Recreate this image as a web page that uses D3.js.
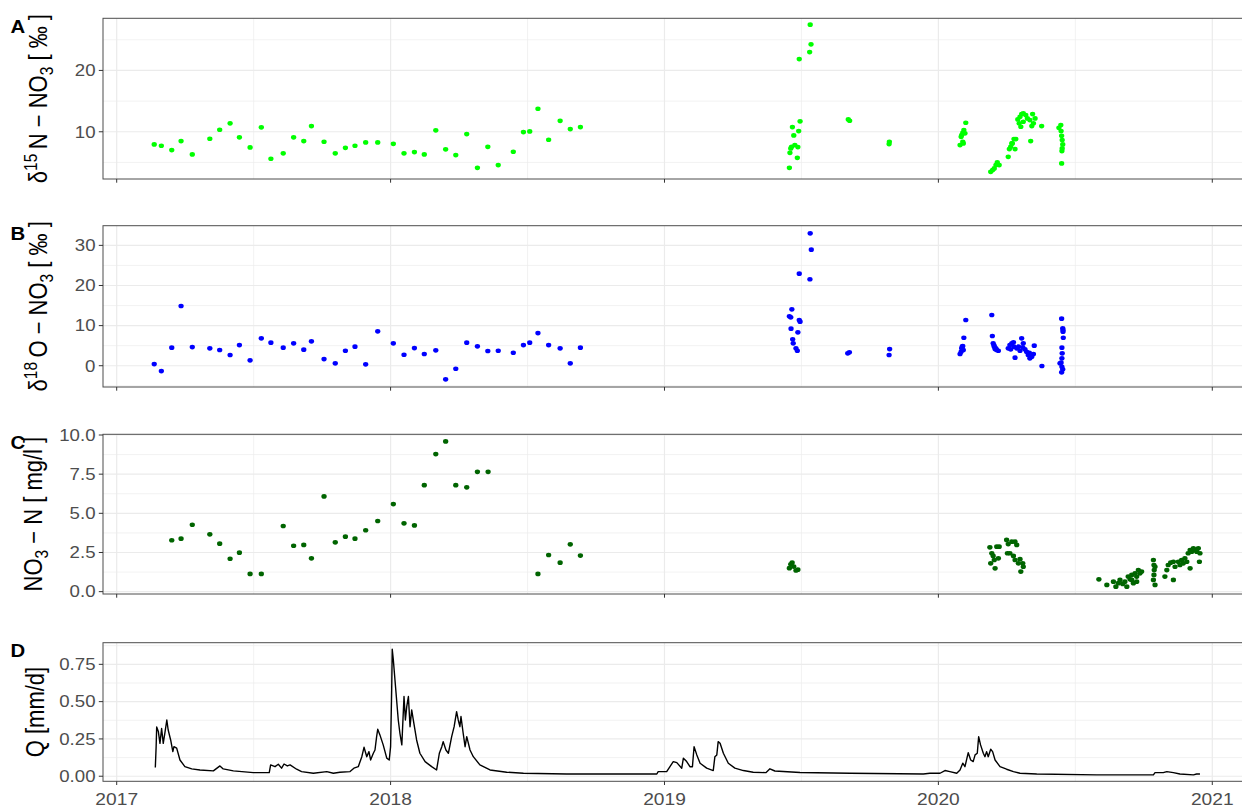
<!DOCTYPE html>
<html>
<head>
<meta charset="utf-8">
<script src="https://cdn.jsdelivr.net/npm/d3@7"></script>
<style>
  body { margin: 0; background: #fff; }
  text { font-family: "Liberation Sans", Arial, Helvetica, sans-serif; }
</style>
</head>
<body>
<svg id="chart" width="1242" height="807"></svg>
<script>
// Sampling times are given in decimal years.

// δ15N-NO3 [‰]
const d15nTime = [
  2017.137, 2017.163, 2017.201, 2017.235, 2017.276, 2017.340, 2017.376, 2017.414, 2017.448, 2017.487,
  2017.528, 2017.563, 2017.608, 2017.646, 2017.683, 2017.711, 2017.757, 2017.798, 2017.835, 2017.870,
  2017.909, 2017.953, 2018.010, 2018.049, 2018.087, 2018.123, 2018.165, 2018.201, 2018.238, 2018.278,
  2018.317, 2018.355, 2018.393, 2018.448, 2018.485, 2018.508, 2018.538, 2018.577, 2018.619, 2018.656,
  2018.693,
  2019.456, 2019.458, 2019.461, 2019.464, 2019.467, 2019.472, 2019.476, 2019.485, 2019.487, 2019.490,
  2019.492, 2019.495, 2019.530, 2019.535, 2019.532, 2019.671, 2019.676, 2019.820, 2019.821,
  2020.079, 2020.083, 2020.085, 2020.089, 2020.089, 2020.093, 2020.100, 2020.097, 2020.091,
  2020.191, 2020.198, 2020.204, 2020.210, 2020.215, 2020.222, 2020.255, 2020.259, 2020.264, 2020.268,
  2020.270, 2020.276, 2020.280, 2020.283, 2020.290, 2020.295, 2020.298, 2020.301, 2020.304, 2020.310,
  2020.310, 2020.319, 2020.325, 2020.334, 2020.337, 2020.341, 2020.344, 2020.347, 2020.353, 2020.377,
  2020.440, 2020.447, 2020.448, 2020.450, 2020.452, 2020.454, 2020.452, 2020.451, 2020.450
];
const d15nValue = [
  7.94, 7.72, 7.01, 8.48, 6.31, 8.86, 10.33, 11.37, 9.09, 7.45,
  10.72, 5.60, 6.48, 9.09, 8.48, 10.93, 8.37, 6.48, 7.39, 7.72,
  8.27, 8.27, 8.04, 6.48, 6.69, 6.31, 10.23, 7.13, 6.20, 9.62,
  4.13, 7.55, 4.57, 6.74, 9.95, 10.06, 13.75, 8.70, 11.79, 10.44,
  10.77,
  4.13, 6.57, 7.29, 7.55, 10.77, 9.41, 7.83, 5.76, 7.50, 10.11,
  21.86, 11.70, 23.00, 24.26, 27.46, 12.02, 11.80, 7.99, 8.37,
  7.83, 9.18, 9.46, 9.84, 8.37, 10.28, 11.47, 9.74, 8.10,
  3.47, 3.75, 4.03, 4.57, 5.01, 4.57, 5.92, 7.18, 7.55, 8.10,
  8.10, 8.81, 7.18, 8.81, 12.02, 11.37, 12.45, 10.82, 12.89, 13.00,
  11.63, 12.72, 12.18, 11.91, 8.48, 10.93, 12.89, 11.37, 12.18, 10.93,
  10.65, 11.09, 10.11, 9.35, 8.65, 7.94, 7.29, 6.85, 4.84
];

// δ18O-NO3 [‰]
const d18oTime = [
  2017.137, 2017.163, 2017.201, 2017.235, 2017.276, 2017.340, 2017.376, 2017.414, 2017.448, 2017.487,
  2017.528, 2017.563, 2017.608, 2017.646, 2017.683, 2017.711, 2017.757, 2017.798, 2017.835, 2017.870,
  2017.909, 2017.953, 2018.010, 2018.049, 2018.087, 2018.123, 2018.165, 2018.201, 2018.238, 2018.278,
  2018.317, 2018.355, 2018.393, 2018.448, 2018.485, 2018.508, 2018.538, 2018.577, 2018.619, 2018.656,
  2018.693,
  2019.456, 2019.461, 2019.462, 2019.465, 2019.468, 2019.470, 2019.480, 2019.485, 2019.487, 2019.492,
  2019.492, 2019.495, 2019.531, 2019.532, 2019.536, 2019.669, 2019.675, 2019.820, 2019.822,
  2020.079, 2020.083, 2020.085, 2020.087, 2020.089, 2020.091, 2020.093, 2020.100,
  2020.195, 2020.197, 2020.200, 2020.203, 2020.204, 2020.207, 2020.210, 2020.213, 2020.219,
  2020.255, 2020.261, 2020.264, 2020.268, 2020.274, 2020.276, 2020.280, 2020.286, 2020.292, 2020.298,
  2020.304, 2020.308, 2020.310, 2020.316, 2020.322, 2020.328, 2020.332, 2020.334, 2020.341, 2020.347,
  2020.350, 2020.378,
  2020.444, 2020.448, 2020.450, 2020.450, 2020.451, 2020.451, 2020.451, 2020.452, 2020.454, 2020.454,
  2020.455, 2020.455, 2020.456
];
const d18oValue = [
  0.42, -1.32, 4.49, 14.89, 4.66, 4.34, 3.92, 2.67, 5.16, 1.35,
  6.83, 5.74, 4.49, 5.59, 3.99, 6.08, 1.67, 0.60, 3.74, 4.74,
  0.35, 8.58, 5.59, 2.74, 4.41, 2.92, 3.84, -3.39, -0.75, 5.74,
  4.84, 3.67, 3.74, 3.24, 5.16, 5.74, 8.15, 5.16, 4.34, 0.60,
  4.49,
  12.32, 12.07, 9.23, 14.06, 6.58, 5.59, 4.34, 3.74, 8.33, 11.40,
  22.94, 10.97, 21.55, 33.00, 28.93, 3.09, 3.34, 2.67, 4.16,
  2.92, 3.49, 4.34, 4.74, 4.91, 3.92, 6.98, 11.40,
  12.64, 7.41, 5.59, 5.09, 4.74, 4.16, 4.34, 3.92, 3.74,
  4.34, 5.16, 4.09, 5.59, 5.84, 4.74, 2.00, 4.34, 4.74, 3.74,
  6.83, 4.59, 5.59, 4.09, 3.49, 2.67, 3.24, 1.85, 2.24, 2.92,
  4.99, -0.07,
  0.60, 0.75, 11.72, -1.65, 4.49, 1.85, -0.25, 3.09, 9.33, -0.90,
  8.48, 8.90, 6.98
];

// NO3-N [mg/l]
const no3Time = [
  2017.201, 2017.235, 2017.276, 2017.340, 2017.376, 2017.414, 2017.448, 2017.487, 2017.528, 2017.608,
  2017.646, 2017.683, 2017.711, 2017.757, 2017.798, 2017.835, 2017.870, 2017.909, 2017.953, 2018.010,
  2018.049, 2018.087, 2018.123, 2018.165, 2018.201, 2018.238, 2018.278, 2018.317, 2018.356, 2018.538,
  2018.577, 2018.619, 2018.656, 2018.693,
  2019.456, 2019.461, 2019.466, 2019.472, 2019.480, 2019.487,
  2020.188, 2020.191, 2020.195, 2020.200, 2020.204, 2020.207, 2020.213, 2020.219, 2020.222, 2020.249,
  2020.252, 2020.255, 2020.261, 2020.268, 2020.274, 2020.280, 2020.280, 2020.286, 2020.292, 2020.298,
  2020.301, 2020.308, 2020.310,
  2020.586, 2020.615, 2020.639, 2020.648, 2020.657, 2020.663, 2020.673, 2020.681, 2020.688, 2020.693,
  2020.700, 2020.706, 2020.706, 2020.712, 2020.718, 2020.724, 2020.724, 2020.730, 2020.736, 2020.742,
  2020.785, 2020.785, 2020.787, 2020.788, 2020.787, 2020.791, 2020.791, 2020.827, 2020.834, 2020.839,
  2020.848, 2020.858, 2020.858, 2020.864, 2020.876, 2020.882, 2020.888, 2020.894, 2020.900, 2020.907,
  2020.912, 2020.919, 2020.919, 2020.925, 2020.931, 2020.937, 2020.943, 2020.949, 2020.953, 2020.955
];
const no3Value = [
  3.28, 3.38, 4.27, 3.66, 3.06, 2.10, 2.49, 1.13, 1.13, 4.19,
  2.93, 2.98, 2.13, 6.08, 3.15, 3.51, 3.38, 3.92, 4.51, 5.59,
  4.36, 4.23, 6.80, 8.78, 9.59, 6.80, 6.66, 7.65, 7.65, 1.13,
  2.34, 1.85, 3.02, 2.30,
  1.50, 1.75, 1.85, 1.60, 1.35, 1.40,
  2.83, 1.81, 2.45, 2.28, 2.02, 1.49, 2.87, 2.13, 2.87, 3.30,
  2.45, 3.04, 2.45, 3.19, 2.28, 3.19, 2.02, 2.98, 1.81, 2.07,
  1.28, 1.81, 1.59,
  0.79, 0.43, 0.64, 0.32, 0.54, 0.75, 0.49, 0.64, 0.32, 0.96,
  0.79, 1.07, 0.75, 0.54, 1.17, 0.96, 0.64, 1.38, 1.17, 1.28,
  2.02, 0.75, 1.70, 1.38, 1.07, 0.43, 1.59, 0.96, 1.38, 1.70,
  1.85, 1.91, 0.75, 1.59, 1.91, 1.70, 2.02, 1.81, 2.13, 1.91,
  2.45, 2.66, 1.49, 2.55, 2.77, 2.66, 2.55, 2.77, 1.91, 2.45
];

// Discharge Q [mm/d]
const qTime = [
  2017.141, 2017.144, 2017.146, 2017.152, 2017.158, 2017.164, 2017.170, 2017.176, 2017.183, 2017.188,
  2017.197, 2017.205, 2017.209, 2017.219, 2017.231, 2017.249, 2017.274, 2017.304, 2017.353, 2017.377,
  2017.389, 2017.426, 2017.499, 2017.557, 2017.562, 2017.578, 2017.590, 2017.602, 2017.611, 2017.623,
  2017.633, 2017.657, 2017.675, 2017.718, 2017.767, 2017.791, 2017.815, 2017.852, 2017.866, 2017.882,
  2017.895, 2017.903, 2017.913, 2017.921, 2017.927, 2017.937, 2017.943, 2017.949, 2017.953, 2017.961,
  2017.973, 2017.986, 2017.995, 2018.000, 2018.004, 2018.006, 2018.010, 2018.016, 2018.022, 2018.028,
  2018.034, 2018.041, 2018.044, 2018.049, 2018.054, 2018.059, 2018.065, 2018.071, 2018.077, 2018.085,
  2018.095, 2018.107, 2018.126, 2018.150, 2018.168, 2018.178, 2018.187, 2018.192, 2018.202, 2018.211,
  2018.223, 2018.232, 2018.241, 2018.247, 2018.253, 2018.257, 2018.265, 2018.272, 2018.278, 2018.290,
  2018.302, 2018.326, 2018.363, 2018.424, 2018.485, 2018.643, 2018.911, 2018.972, 2018.977, 2019.008,
  2019.020, 2019.032, 2019.045, 2019.063, 2019.069, 2019.081, 2019.093, 2019.102, 2019.108, 2019.118,
  2019.130, 2019.154, 2019.178, 2019.184, 2019.191, 2019.196, 2019.203, 2019.215, 2019.233, 2019.257,
  2019.288, 2019.324, 2019.370, 2019.385, 2019.403, 2019.495, 2019.677, 2019.945, 2019.969, 2020.006,
  2020.024, 2020.042, 2020.067, 2020.079, 2020.089, 2020.097, 2020.109, 2020.118, 2020.127, 2020.134,
  2020.142, 2020.147, 2020.154, 2020.164, 2020.170, 2020.176, 2020.182, 2020.191, 2020.198, 2020.207,
  2020.225, 2020.249, 2020.274, 2020.298, 2020.359, 2020.578, 2020.785, 2020.791, 2020.821, 2020.834,
  2020.858, 2020.882, 2020.931, 2020.943, 2020.955
];
const qValue = [
  0.058, 0.198, 0.330, 0.300, 0.220, 0.320, 0.220, 0.290, 0.377, 0.310,
  0.243, 0.165, 0.198, 0.188, 0.109, 0.064, 0.049, 0.042, 0.036, 0.069,
  0.049, 0.036, 0.024, 0.024, 0.076, 0.064, 0.080, 0.054, 0.082, 0.069,
  0.076, 0.047, 0.031, 0.020, 0.031, 0.020, 0.027, 0.031, 0.054, 0.064,
  0.131, 0.194, 0.131, 0.165, 0.109, 0.154, 0.176, 0.265, 0.315, 0.277,
  0.210, 0.121, 0.109, 0.198, 0.578, 0.851, 0.780, 0.645, 0.511, 0.377,
  0.288, 0.210, 0.332, 0.534, 0.377, 0.467, 0.534, 0.332, 0.444, 0.355,
  0.243, 0.154, 0.098, 0.064, 0.042, 0.154, 0.198, 0.232, 0.176, 0.154,
  0.265, 0.332, 0.433, 0.377, 0.332, 0.400, 0.288, 0.198, 0.265, 0.176,
  0.131, 0.076, 0.042, 0.027, 0.020, 0.015, 0.015, 0.015, 0.031, 0.031,
  0.064, 0.098, 0.091, 0.054, 0.121, 0.098, 0.064, 0.064, 0.198, 0.143,
  0.087, 0.054, 0.038, 0.131, 0.143, 0.232, 0.221, 0.154, 0.087, 0.054,
  0.038, 0.027, 0.024, 0.050, 0.035, 0.025, 0.020, 0.015, 0.020, 0.020,
  0.038, 0.031, 0.020, 0.042, 0.087, 0.064, 0.158, 0.109, 0.098, 0.143,
  0.154, 0.265, 0.210, 0.154, 0.131, 0.165, 0.131, 0.181, 0.165, 0.109,
  0.064, 0.047, 0.031, 0.020, 0.015, 0.009, 0.009, 0.024, 0.024, 0.031,
  0.024, 0.015, 0.009, 0.015, 0.015
];

// Axis ticks
const yearTicks = [2017, 2018, 2019, 2020, 2021];
const d15nTicks = [10, 20];
const d18oTicks = [0, 10, 20, 30];
const no3Ticks = [0, 2.5, 5, 7.5, 10];
const qTicks = [0, 0.25, 0.5, 0.75];

// ---------------------------------------------------------------------------
const svg = d3.select("#chart");
const SX = 1.13;            // horizontal glyph stretch of the figure
const left = 103, right = 1252;

const x = d3.scaleLinear().domain([2016.95, 2021.145]).range([left, right]);
const xMinor = d3.range(2016.5, 2021.6, 1);

const zip = (t, v) => t.map((d, i) => ({ t: d, v: v[i] }));

const panels = [
  { tag: "A", top: 18.3, bottom: 179, domain: [2.3, 28.5], ticks: d15nTicks,
    fmt: d3.format("d"), kind: "dot", color: "#00ff00", data: zip(d15nTime, d15nValue),
    title: "d15n", titleX: 47 },
  { tag: "B", top: 225.7, bottom: 387, domain: [-5.3, 34.9], ticks: d18oTicks,
    fmt: d3.format("d"), kind: "dot", color: "#0000ff", data: zip(d18oTime, d18oValue),
    title: "d18o", titleX: 47 },
  { tag: "C", top: 434.3, bottom: 594, domain: [-0.15, 10.045], ticks: no3Ticks,
    fmt: d3.format(".1f"), kind: "dot", color: "#006400", data: zip(no3Time, no3Value),
    title: "no3", titleX: 42 },
  { tag: "D", top: 642.7, bottom: 781.3, domain: [-0.034, 0.895], ticks: qTicks,
    fmt: d3.format(".2f"), kind: "line", color: "#000000", data: zip(qTime, qValue),
    title: "q", titleX: 44, xLabels: true }
];

function stretchedText(g, px, py, rotate) {
  return g.append("text")
    .attr("transform", `translate(${px},${py}) scale(${SX},1)` + (rotate ? " rotate(-90)" : ""));
}

panels.forEach(p => {
  const y = d3.scaleLinear().domain(p.domain).range([p.bottom, p.top]);
  const g = svg.append("g");
  const step = p.ticks[1] - p.ticks[0];
  const yMinor = d3.range(p.ticks[0] - step / 2, p.domain[1], step)
    .filter(v => v > p.domain[0] && v < p.domain[1]);

  const clipId = "clip" + p.tag;
  svg.append("clipPath").attr("id", clipId).append("rect")
    .attr("x", left).attr("y", p.top).attr("width", right - left).attr("height", p.bottom - p.top);

  const grid = g.append("g").attr("clip-path", `url(#${clipId})`);
  grid.selectAll(".hmin").data(yMinor).join("line")
    .attr("x1", left).attr("x2", right).attr("y1", y).attr("y2", y)
    .attr("stroke", "#ededed").attr("stroke-width", 0.7);
  grid.selectAll(".vmin").data(xMinor).join("line")
    .attr("x1", x).attr("x2", x).attr("y1", p.top).attr("y2", p.bottom)
    .attr("stroke", "#ededed").attr("stroke-width", 0.7);
  grid.selectAll(".hmaj").data(p.ticks).join("line")
    .attr("x1", left).attr("x2", right).attr("y1", y).attr("y2", y)
    .attr("stroke", "#ebebeb").attr("stroke-width", 1.2);
  grid.selectAll(".vmaj").data(yearTicks).join("line")
    .attr("x1", x).attr("x2", x).attr("y1", p.top).attr("y2", p.bottom)
    .attr("stroke", "#ebebeb").attr("stroke-width", 1.2);

  // marks
  const marks = g.append("g").attr("clip-path", `url(#${clipId})`);
  if (p.kind === "dot") {
    marks.selectAll("ellipse").data(p.data).join("ellipse")
      .attr("cx", d => x(d.t)).attr("cy", d => y(d.v))
      .attr("rx", 2.65).attr("ry", 2.35)
      .attr("fill", p.color);
  } else {
    const line = d3.line().x(d => x(d.t)).y(d => y(d.v));
    marks.append("path").datum(p.data).attr("d", line)
      .attr("fill", "none").attr("stroke", p.color)
      .attr("stroke-width", 1.4).attr("stroke-linejoin", "round");
  }

  // panel border
  g.append("rect").attr("x", left).attr("y", p.top)
    .attr("width", right - left).attr("height", p.bottom - p.top)
    .attr("fill", "none").attr("stroke", "#4d4d4d").attr("stroke-width", 1);

  // y axis ticks and labels
  g.selectAll(".ytick").data(p.ticks).join("line")
    .attr("x1", left - 4.2).attr("x2", left).attr("y1", y).attr("y2", y)
    .attr("stroke", "#333").attr("stroke-width", 1);
  p.ticks.forEach(v => {
    stretchedText(g, left - 7.5, y(v) + 5.8, false)
      .attr("text-anchor", "end").attr("font-size", 16.5).attr("fill", "#4d4d4d")
      .text(p.fmt(v));
  });

  // x axis ticks
  g.selectAll(".xtick").data(yearTicks).join("line")
    .attr("x1", x).attr("x2", x).attr("y1", p.bottom).attr("y2", p.bottom + 3.7)
    .attr("stroke", "#333").attr("stroke-width", 1);
  if (p.xLabels) {
    yearTicks.forEach(v => {
      stretchedText(g, x(v), p.bottom + 23.2, false)
        .attr("text-anchor", "middle").attr("font-size", 17).attr("fill", "#4d4d4d")
        .text(v);
    });
  }

  // panel tag
  stretchedText(g, 10.5, p.top + 14.5, false)
    .attr("font-size", 18).attr("font-weight", "bold").attr("fill", "#000")
    .text(p.tag);

  // y axis title
  const tt = stretchedText(g, p.titleX, (p.top + p.bottom) / 2, true)
    .attr("text-anchor", "middle").attr("font-size", 22).attr("fill", "#000");
  const sup = (s) => { tt.append("tspan").attr("font-size", 15.5).attr("dy", -9).text(s);
                       tt.append("tspan").attr("dy", 9).text("\u2009"); };
  const sub = (s) => { tt.append("tspan").attr("font-size", 15.5).attr("dy", 5).text(s);
                       tt.append("tspan").attr("dy", -5).text(" "); };
  if (p.title === "d15n") {
    tt.append("tspan").text("\u03b4"); sup("15");
    tt.append("tspan").text("N \u2212 NO"); sub("3");
    tt.append("tspan").text("[ \u2030 ]");
  } else if (p.title === "d18o") {
    tt.append("tspan").text("\u03b4"); sup("18");
    tt.append("tspan").text("O \u2212 NO"); sub("3");
    tt.append("tspan").text("[ \u2030 ]");
  } else if (p.title === "no3") {
    tt.append("tspan").text("NO"); sub("3");
    tt.append("tspan").text("\u2212 N [ mg/l ]");
  } else {
    tt.append("tspan").text("Q [mm/d]");
  }
});
</script>
</body>
</html>
